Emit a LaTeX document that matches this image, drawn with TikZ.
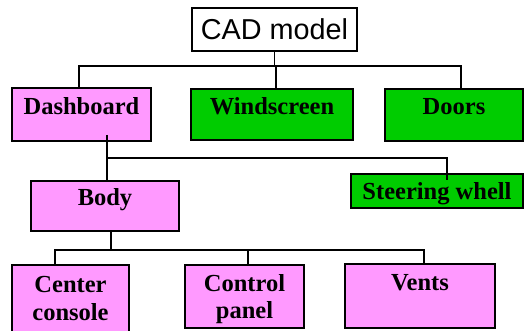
\documentclass[tikz,border=0pt]{standalone}
\usepackage{fontspec}
\setmainfont{Liberation Serif}
\newfontfamily\cadsans{Liberation Sans}
\usepackage{xcolor}
\usepackage{tikz}
\usetikzlibrary{positioning, calc}
\definecolor{partpink}{HTML}{FF99FF}
\definecolor{partgreen}{HTML}{00CC00}
\tikzset{
  root/.style   = {rectangle, draw, line width=1.2pt, fill=white,
                   minimum width=165pt, minimum height=43pt, inner sep=0pt,
                   font=\cadsans\fontsize{28.8}{32}\selectfont, text depth=0pt},
  part/.style   = {rectangle, draw, line width=1.8pt, inner sep=0pt, align=center,
                   font=\fontsize{24.5}{28}\selectfont\bfseries},
  flat/.style   = {part, text height=14pt, text depth=14pt},
  pinkpart/.style  = {fill=partpink},
  greenpart/.style = {fill=partgreen},
  link/.style   = {line width=1.5pt},
}

\begin{document}
\begin{tikzpicture}[x=1pt, y=-1pt]
  \useasboundingbox (0,0) rectangle (525,331);

  \node[root] (cad) at (274.5,29.5) {CAD model};

  \node[flat, pinkpart, minimum width=139pt, minimum height=53pt]  (dash)  at (81.5,114.5) {Dashboard};
  \node[flat, greenpart, minimum width=162pt, minimum height=51pt] (wind)  at (272,114.5) {Windscreen};
  \node[flat, greenpart, minimum width=138pt, minimum height=52pt] (doors) at (454,115) {Doors};

  \node[flat, pinkpart, minimum width=148pt, minimum height=50pt]  (body)  at (105,206) {Body};
  \node[part, greenpart, text depth=0pt, minimum width=172pt, minimum height=34pt] (steer) at (437,191) {Steering whell};

  \node[part, pinkpart, minimum width=117pt, minimum height=67pt] (cc)    at (70.5,298.5) {Center\\console};
  \node[part, pinkpart, text depth=0pt, minimum width=119pt, minimum height=63pt] (cp) at (244.5,296.5) {Control\\panel};
  \node[part, pinkpart, minimum width=150pt, minimum height=64pt] (vents) at (420,296) {Vents\\\mbox{}};

  % buses of the tree
  \coordinate (top bus)  at (0,66);
  \coordinate (dash bus) at (107,158);
  \coordinate (body bus) at (111,250);

  \draw[link] (cad.south) -- (cad.south |- top bus);
  \draw[link] ([xshift=-2.5pt]dash.north) |- ([xshift=7pt]doors.north |- top bus) -- ([xshift=7pt]doors.north);
  \draw[link] ([xshift=4pt]wind.north) -- ([xshift=4pt]wind.north |- top bus);

  \draw[link] ([yshift=7pt]dash.south -| dash bus) -- (dash bus) -| ([xshift=10pt,yshift=-7pt]steer.north);
  \draw[link] (dash bus) -- (body.north -| dash bus);

  \draw[link] (body.south -| body bus) -- (body bus);
  \draw[link] ([xshift=-15.5pt]cc.north) |- ([xshift=4pt]vents.north |- body bus) -- ([xshift=4pt]vents.north);
  \draw[link] ([xshift=3.5pt]cp.north) -- ([xshift=3.5pt]cp.north |- body bus);
\end{tikzpicture}
\end{document}
